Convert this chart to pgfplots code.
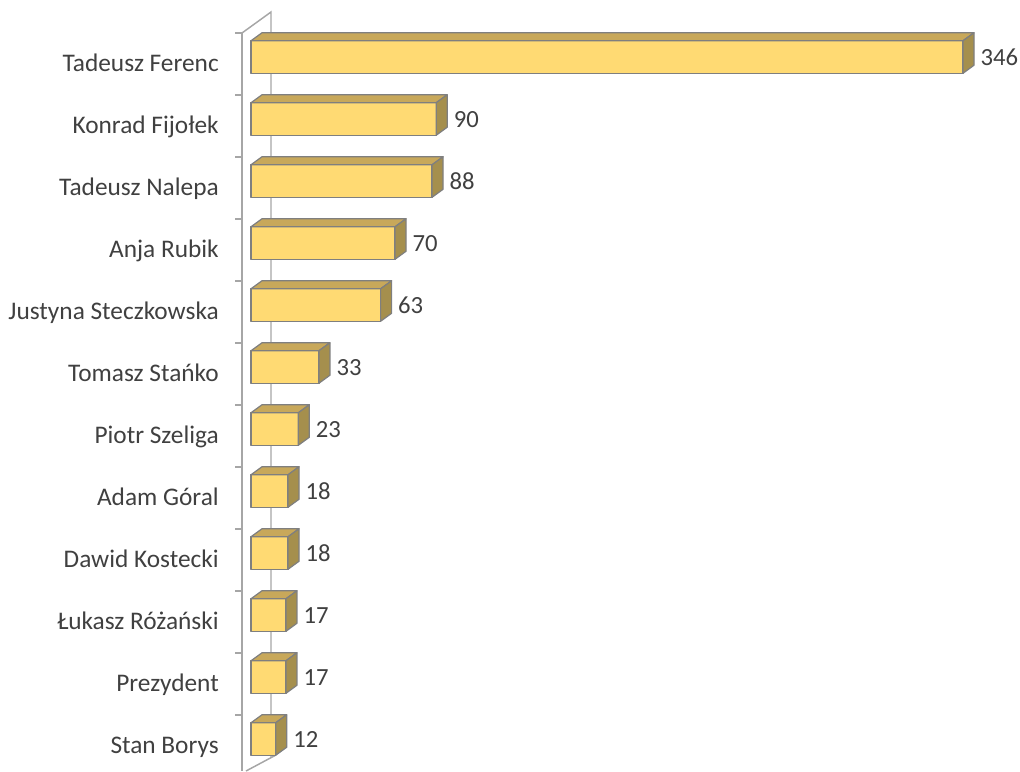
\documentclass[border=0pt]{standalone}
\usepackage{pgfplots}
\pgfplotsset{compat=1.18}
\usepackage{fontspec}
\setmainfont{Carlito}
\definecolor{frontc}{HTML}{FFDA73}
\definecolor{topc}{HTML}{C8A85A}
\definecolor{sidec}{HTML}{A58F4D}
\definecolor{edgec}{HTML}{7F7F7F}
\definecolor{wallc}{HTML}{A6A6A6}
\definecolor{txt}{HTML}{404040}
\pgfdeclareplotmark{nothing}{}
\begin{document}
\begin{tikzpicture}
\useasboundingbox (0,0) rectangle (765pt,-578.25pt);
\begin{scope}[x=0.75pt,y=-0.75pt, draw=wallc, line width=1.1pt]
\draw (242,33) -- (242,771);
\draw (242,33) -- (271,12) -- (271,757);
\draw (246,771) -- (276,755);
\foreach \k in {0,...,11} \draw (235,{33+62*\k}) -- (242,{33+62*\k});
\end{scope}
\begin{axis}[
  at={(188.25pt,-19.5pt)}, anchor=north west,
  scale only axis, width=534pt, height=558pt,
  xmin=0, xmax=346, ymin=-0.5, ymax=11.5, y dir=reverse,
  hide x axis,
  axis line style={draw=none},
  ytick={0,...,11},
  yticklabels={Tadeusz Ferenc, Konrad Fijołek, Tadeusz Nalepa, Anja Rubik, Justyna Steczkowska, Tomasz Stańko, Piotr Szeliga, Adam Góral, Dawid Kostecki, Łukasz Różański, Prezydent, Stan Borys},
  ytick style={draw=none},
  major tick length=0pt,
  yticklabel style={anchor=base east, inner sep=0pt, xshift=-24pt, yshift=-11pt, font=\fontsize{19}{23}\selectfont, text=txt},
  clip=false,
]
\addplot[only marks, mark=nothing, scatter, point meta=x,
  visualization depends on={x \as \val},
  scatter/@pre marker code/.code={%
    \coordinate (Z) at (axis direction cs:-\val,0);
    \filldraw[fill=frontc, draw=edgec, line width=0.9pt, line join=round]
      ([yshift=-12.19pt]Z) rectangle (0pt,12.19pt);
    \filldraw[fill=topc, draw=edgec, line width=0.9pt, line join=round]
      ([yshift=12.19pt]Z) -- ([shift={(8.25pt,18.19pt)}]Z) -- (8.25pt,18.19pt) -- (0pt,12.19pt) -- cycle;
    \filldraw[fill=sidec, draw=edgec, line width=0.9pt, line join=round]
      (0pt,-12.19pt) -- (0pt,12.19pt) -- (8.25pt,18.19pt) -- (8.25pt,-6.19pt) -- cycle;
    \node[anchor=base west, inner sep=0pt, text=txt, font=\fontsize{18.5}{22}\selectfont]
      at (13pt,-6.6pt) {\pgfmathprintnumber[fixed,precision=0,assume math mode=true]{\val}};
  },
  scatter/@post marker code/.code={}]
coordinates {(346,0) (90,1) (88,2) (70,3) (63,4) (33,5) (23,6) (18,7) (18,8) (17,9) (17,10) (12,11)};
\end{axis}
\end{tikzpicture}
\end{document}
